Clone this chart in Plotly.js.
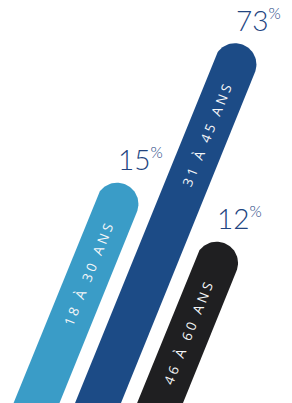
<!DOCTYPE html>
<html>
<head>
<meta charset="utf-8">
<script src="https://cdn.plot.ly/plotly-3.0.1.min.js"></script>
<style>
  html, body { margin: 0; padding: 0; background: #ffffff; }
  #chart { width: 292px; height: 403px; }
</style>
</head>
<body>
<div id="chart"></div>
<script>
// ---- data ----
const ageGroups = ['18 À 30 ANS', '31 À 45 ANS', '46 À 60 ANS'];
const shares = [15, 73, 12];

// ---- styling / layout geometry (not data) ----
const barColors = ['#3a9cc7', '#1c4b86', '#1f1f21'];
const barBaseX = [36.5, 98, 160];     // axis position where each bar leaves the bottom edge
const barReach = [199, 338.5, 140];   // height of each bar's cap centre above the bottom edge
const slant = 0.405;                  // horizontal run per unit of rise
const barWidthH = 46;                 // horizontal width of a bar
const pctColor = '#22447f';
const labelTracking = '3.3px';

const norm = Math.sqrt(1 + slant * slant);
const r = (barWidthH / norm) / 2;
const n = [1 / norm, -slant / norm];  // perpendicular (to the right)

const traces = [];
const annotations = [];

shares.forEach((v, i) => {
  const yb = -40;
  const bx = barBaseX[i] + slant * yb;
  const cy = barReach[i];
  const cx = barBaseX[i] + slant * cy;
  const xs = [], ys = [];
  xs.push(bx - r * n[0]); ys.push(yb - r * n[1]);
  const a0 = Math.atan2(-n[1], -n[0]);
  const steps = 40;
  for (let k = 0; k <= steps; k++) {
    const a = a0 - Math.PI * k / steps;
    xs.push(cx + r * Math.cos(a)); ys.push(cy + r * Math.sin(a));
  }
  xs.push(bx + r * n[0]); ys.push(yb + r * n[1]);
  traces.push({
    type: 'scatter', mode: 'lines', x: xs, y: ys, fill: 'toself',
    fillcolor: barColors[i], line: {width: 0, color: barColors[i]},
    hoverinfo: 'skip', showlegend: false
  });
  const ly = cy - 69;
  annotations.push({
    x: barBaseX[i] + slant * ly, y: ly, xref: 'x', yref: 'y',
    text: ageGroups[i], showarrow: false,
    textangle: -Math.atan2(1, slant) * 180 / Math.PI,
    xanchor: 'center', yanchor: 'middle',
    font: {family: '"Open Sans", Lato, sans-serif', size: 13.5, color: '#f4f6f8'}
  });
});

shares.forEach((v, i) => {
  const cy = barReach[i];
  const cx = barBaseX[i] + slant * cy;
  annotations.push({
    x: cx - 1.5, y: cy + 45, xref: 'x', yref: 'y',
    text: v + '<sup><span style="font-size:80%">%</span></sup>',
    showarrow: false, xanchor: 'left', yanchor: 'middle',
    font: {family: '"Lato Light", "Open Sans Light", "Lato", sans-serif', size: 28, weight: 300, color: pctColor}
  });
});

const layout = {
  width: 292, height: 403,
  margin: {l: 0, r: 0, t: 0, b: 0, pad: 0},
  paper_bgcolor: '#ffffff', plot_bgcolor: '#ffffff',
  xaxis: {range: [0, 292], visible: false, fixedrange: true},
  yaxis: {range: [0, 403], visible: false, fixedrange: true},
  showlegend: false,
  annotations: annotations
};

Plotly.newPlot('chart', traces, layout, {displayModeBar: false, staticPlot: true}).then(gd => {
  gd.querySelectorAll('g.annotation').forEach(g => {
    const idx = +g.getAttribute('data-index');
    if (idx < ageGroups.length) {
      g.querySelectorAll('text').forEach(t => { t.style.letterSpacing = labelTracking; });
    }
  });
});
</script>
</body>
</html>
